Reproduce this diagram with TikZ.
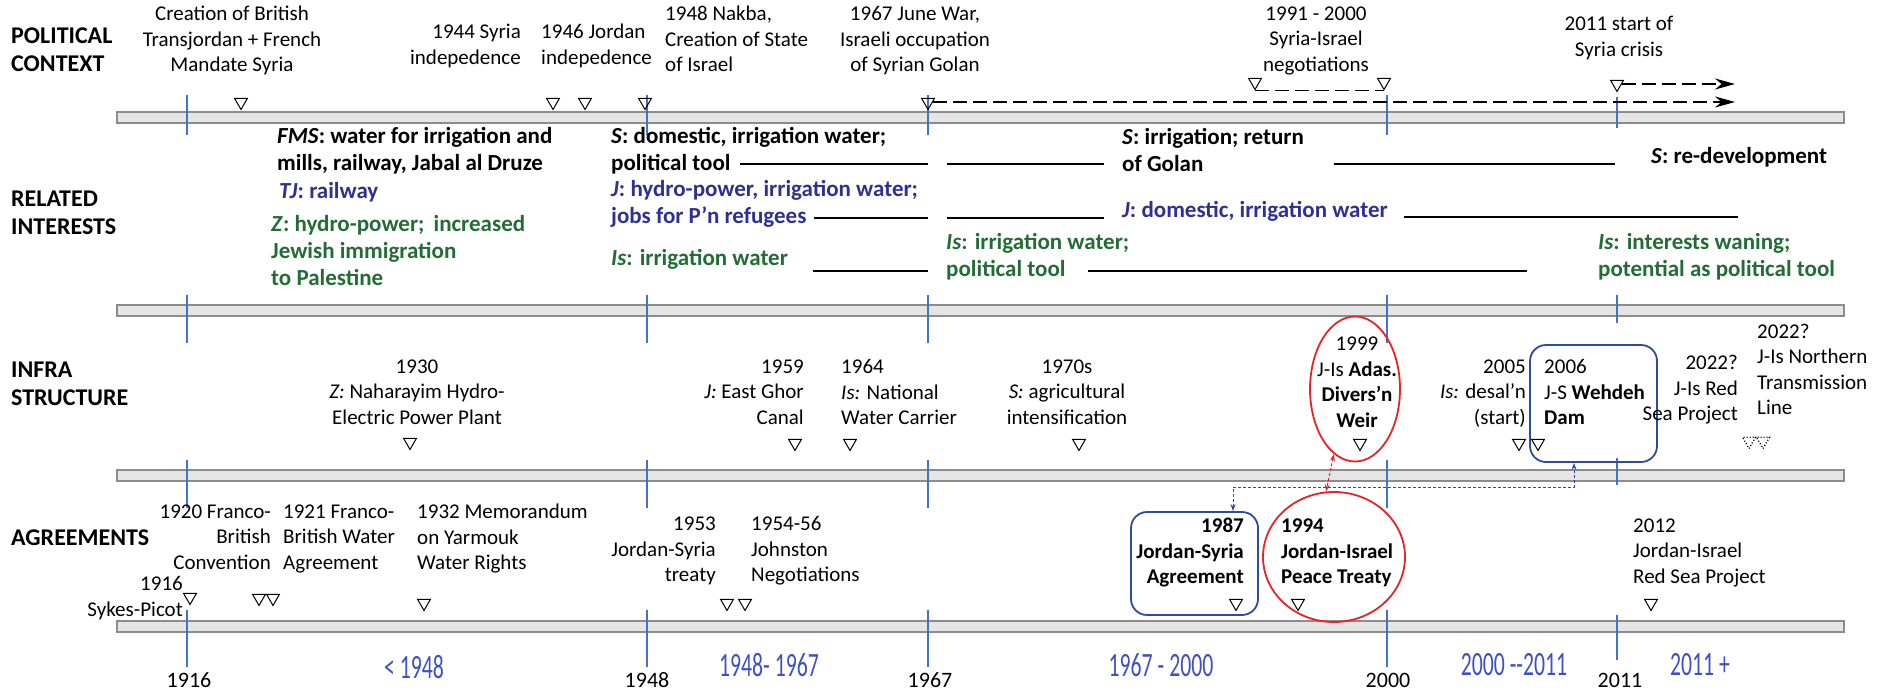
\documentclass[tikz,border=0pt]{standalone}
\usepackage{fontspec}
\setmainfont{Carlito}
\usepackage{graphicx}
\usetikzlibrary{positioning,arrows.meta,shapes.geometric}
\definecolor{blueint}{HTML}{2E3192}
\definecolor{greenint}{HTML}{236C35}
\definecolor{yearblue}{HTML}{4472C4}
\definecolor{perblue}{HTML}{3F51C0}
\definecolor{boxblue}{HTML}{2F4BA0}
\definecolor{redc}{HTML}{E52429}
\newcommand{\narrowtxt}[1]{\scalebox{0.64}[1]{#1}}

\begin{document}
\begin{tikzpicture}[x=1pt, y=-1pt, inner sep=0pt,
  rowlab/.style={font=\fontsize{24}{28}\selectfont\bfseries, align=left, anchor=west},
  ev/.style={font=\fontsize{21}{25.5}\selectfont, execute at begin node=\strut, execute at end node=\strut},
  evl/.style={ev, align=left, anchor=west}, evr/.style={ev, align=right, anchor=east}, evc/.style={ev, align=center},
  intr/.style={font=\fontsize{23}{27}\selectfont\bfseries, align=left, anchor=west, execute at begin node=\strut, execute at end node=\strut},
  intb/.style={intr, text=black}, intbl/.style={intr, text=blueint}, intg/.style={intr, text=greenint},
  mk/.style={draw=black, line width=1pt, regular polygon, regular polygon sides=3, shape border rotate=180, minimum size=15pt},
  bar/.style={draw=black!45, fill=black!10, line width=1.2pt},
  yr/.style={draw=yearblue, line width=1.2pt},
  dur/.style={draw=black, line width=1.8pt},
  per/.style={text=perblue, font=\fontsize{34}{36}\selectfont},
  dsh/.style={draw=black, line width=1.6pt, dash pattern=on 14pt off 6pt},
  dsharr/.style={dsh, -{Stealth[length=20pt, width=11pt]}},
  ring/.style={draw=redc, line width=1.8pt, ellipse},
  rbox/.style={draw=boxblue, line width=1.8pt, rounded corners=16pt}]
\useasboundingbox (0,0) rectangle (1889,694);
\draw[bar] (117,112) rectangle (1844,123); \draw[bar] (117,305) rectangle (1844,316);
\draw[bar] (117,470) rectangle (1844,481); \draw[bar] (117,621) rectangle (1844,632);
\foreach \x in {187,647,928,1387} {
  \draw[yr] (\x,95) -- (\x,135); \draw[yr] (\x,295) -- (\x,343);
  \draw[yr] (\x,460) -- (\x,508); \draw[yr] (\x,610) -- (\x,667);
}
\draw[yr] (1617,97) -- (1617,128); \draw[yr] (1617,295) -- (1617,323);
\draw[yr] (1617,458) -- (1617,485); \draw[yr] (1617,615) -- (1617,660);

\node[rowlab] (pc) at (11,50) {POLITICAL\\CONTEXT};
\node[rowlab] (ri) at (11,213) {RELATED\\INTERESTS};
\node[rowlab] (is) at (11,384) {INFRA\\STRUCTURE};
\node[rowlab] (ag) at (11,538) {AGREEMENTS};

\node[evc] (ev1916) at (232,43) {Creation of British\\Transjordan + French\\Mandate Syria};
\node[evr] (ev1944) at (521,48) {1944 Syria\\indepedence};
\node[evl] (ev1946) at (541,48) {1946 Jordan\\indepedence};
\node[evl] (ev1948) at (665,43) {1948 Nakba,\\Creation of State\\of Israel};
\node[evc] (ev1967) at (915,43) {1967 June War,\\Israeli occupation\\of Syrian Golan};
\node[evc] (ev1991) at (1316,43) {1991 - 2000\\Syria-Israel\\negotiations};
\node[evc] (ev2011) at (1619,40) {2011 start of\\Syria crisis};
\node[mk] (m1) at (241,102) {}; \node[mk] (m2) at (553,102) {}; \node[mk] (m3) at (585,102) {};
\node[mk] (m4) at (645,102) {}; \node[mk] (m5) at (928,102) {}; \node[mk] (m6) at (1255,82) {};
\node[mk] (m7) at (1384,82) {}; \node[mk] (m8) at (1617,84) {};
\coordinate (pce1) at (1735,102); \coordinate (pce2) at (1735,84);
\draw[dsharr] (m5) -- (pce1); \draw[dsharr] (m8) -- (pce2); \draw[dsh] (m6.south) -- (m7.south);

\node[intb] (i1) at (277,153) {\textit{FMS}: water for irrigation and\\mills, railway, Jabal al Druze};
\node[intbl] (i2) at (279,193) {\textit{TJ}: railway};
\node[intg] (i3) at (271,254) {\textit{Z}: hydro-power;\, increased\\Jewish immigration\\to Palestine};
\node[intb] (i4) at (611,153) {\textit{S}: domestic, irrigation water;\\political tool};
\node[intbl] (i5) at (611,206) {\textit{J}: hydro-power, irrigation water;\\jobs for P’n refugees};
\node[intg] (i6) at (611,260) {\textit{Is}: irrigation water};
\node[intb] (i7) at (1122,154) {\textit{S}: irrigation; return\\of Golan};
\node[intbl] (i8) at (1122,212) {\textit{J}: domestic, irrigation water};
\node[intg] (i9) at (946,259) {\textit{Is}: irrigation water;\\political tool};
\node[intb] (i10) at (1651,158) {\textit{S}: re-development};
\node[intg] (i11) at (1598,259) {\textit{Is}: interests waning;\\potential as political tool};
\draw[dur] (740,164) -- (928,164); \draw[dur] (947,164) -- (1104,164); \draw[dur] (1334,164) -- (1615,164);
\draw[dur] (814,218) -- (928,218); \draw[dur] (947,218) -- (1104,218); \draw[dur] (1404,217) -- (1738,217);
\draw[dur] (813,271) -- (928,271); \draw[dur] (1088,271) -- (1527,271);

\node[ring, minimum width=90pt, minimum height=145pt] (weir) at (1355,389) {};
\node[rbox, minimum width=127pt, minimum height=117pt] (wehdeh) at (1593.5,403.5) {};
\node[evc] (f1930) at (417,396) {1930\\\textit{Z:} Naharayim Hydro-\\Electric Power Plant};
\node[evr] (f1959) at (804,396) {1959\\\textit{J:} East Ghor\\Canal};
\node[evl] (f1964) at (841,396) {1964\\\textit{Is:} National\\Water Carrier};
\node[evc] (f1970) at (1067,396) {1970s\\\textit{S:} agricultural\\intensification};
\node[evc] (f1999) at (1357,386) {1999\\J-Is \textbf{Adas.}\\\textbf{Divers’n}\\\textbf{Weir}};
\node[evr] (f2005) at (1526,396) {2005\\\textit{Is:} desal’n\\(start)};
\node[evl] (f2006) at (1544,396) {2006\\J-S \textbf{Wehdeh}\\\textbf{Dam}};
\node[evr] (f2022a) at (1738,392) {2022?\\J-Is Red\\Sea Project};
\node[evl] (f2022b) at (1757,373) {2022?\\J-Is Northern\\Transmission\\Line};
\node[mk] (n1) at (410,442) {}; \node[mk] (n2) at (795,443) {}; \node[mk] (n3) at (850,443) {};
\node[mk] (n4) at (1079,443) {}; \node[mk] (n5) at (1360,443) {}; \node[mk] (n6) at (1519,443) {};
\node[mk] (n7) at (1538,443) {};
\node[mk, dotted, line width=1.4pt] (n8) at (1749,441) {}; \node[mk, dotted, line width=1.4pt] (n9) at (1763,441) {};

\node[ring, minimum width=142pt, minimum height=130pt] (treaty) at (1334,557) {};
\node[rbox, minimum width=127pt, minimum height=103pt] (jsbox) at (1194.5,563.5) {};
\node[evr] (a1916) at (183,600) {1916\\Sykes-Picot};
\node[evr] (a1920) at (271,541) {1920 Franco-\\British\\Convention};
\node[evl] (a1921) at (283,541) {1921 Franco-\\British Water\\Agreement};
\node[evl] (a1932) at (417,541) {1932 Memorandum\\on Yarmouk\\Water Rights};
\node[evr] (a1953) at (716,553) {1953\\Jordan-Syria\\treaty};
\node[evl] (a1954) at (751,553) {1954-56\\Johnston\\Negotiations};
\node[evr, font=\fontsize{21}{25.5}\selectfont\bfseries] (a1987) at (1244,555) {1987\\Jordan-Syria\\Agreement};
\node[evl, font=\fontsize{21}{25.5}\selectfont\bfseries] (a1994) at (1281,555) {1994\\Jordan-Israel\\Peace Treaty};
\node[evl] (a2012) at (1633,555) {2012\\Jordan-Israel\\Red Sea Project};
\node[mk] (p1) at (190,597) {}; \node[mk] (p2) at (259,598) {}; \node[mk] (p3) at (273,598) {};
\node[mk] (p4) at (424,603) {}; \node[mk] (p5) at (727,603) {}; \node[mk] (p6) at (745,603) {};
\node[mk] (p7) at (1236,603) {}; \node[mk] (p8) at (1298,603) {}; \node[mk] (p9) at (1651,603) {};

\draw[redc, line width=1pt, dash pattern=on 3pt off 2pt, {Stealth[length=7pt, width=5pt]}-{Stealth[length=7pt, width=5pt]}] (weir.252) -- (treaty.97);
\coordinate (lk) at (1233,487);
\draw[boxblue, line width=1pt, dash pattern=on 3pt off 2pt, {Stealth[length=7pt, width=5pt]}-{Stealth[length=7pt, width=5pt]}] ([xshift=38.5pt]jsbox.north) -- (lk) -| ([xshift=-19.5pt]wehdeh.south);

\node[ev, font=\fontsize{22}{26}\selectfont] (y1916) at (189,682) {1916}; \node[ev, font=\fontsize{22}{26}\selectfont] (y1948) at (647,682) {1948};
\node[ev, font=\fontsize{22}{26}\selectfont] (y1967) at (930,682) {1967}; \node[ev, font=\fontsize{22}{26}\selectfont] (y2000) at (1388,682) {2000};
\node[ev, font=\fontsize{22}{26}\selectfont] (y2011) at (1620,682) {2011};
\node[per] (t1) at (414,667) {\narrowtxt{< 1948}}; \node[per] (t2) at (769,665) {\narrowtxt{1948- 1967}};
\node[per] (t3) at (1161,665) {\narrowtxt{1967 - 2000}}; \node[per] (t4) at (1514,665) {\narrowtxt{2000 -{}-2011}};
\node[per] (t5) at (1700,665) {\narrowtxt{2011 +}};
\end{tikzpicture}
\end{document}
